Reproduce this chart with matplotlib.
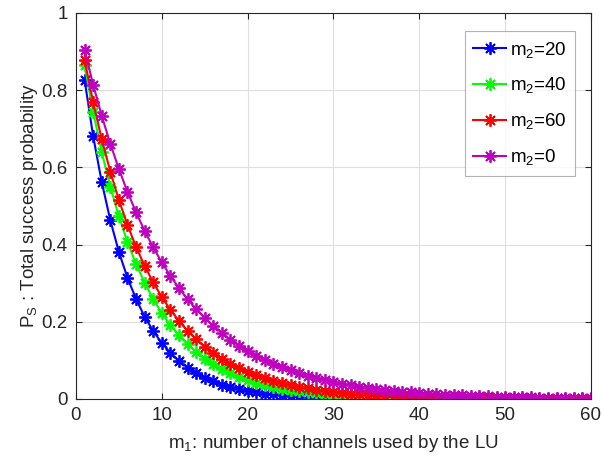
import matplotlib
matplotlib.use("Agg")
import matplotlib.pyplot as plt
import numpy as np

plt.rcParams["font.family"] = ["Liberation Sans", "DejaVu Sans"]
plt.rcParams["mathtext.default"] = "regular"

m1 = np.arange(1, 61)

ps_m2_20 = [
    0.827, 0.681, 0.562, 0.463, 0.381, 0.314, 0.259, 0.213, 0.176, 0.145,
    0.1195, 0.0985, 0.0811, 0.0669, 0.0551, 0.0454, 0.0374, 0.0308, 0.0254, 0.0209,
    0.0172, 0.0142, 0.0117, 0.0097, 0.0080, 0.0066, 0.0054, 0.0045, 0.0037, 0.0030,
    0.0025, 0.0021, 0.0017, 0.0014, 0.0012, 0.0010, 0.0008, 0.0007, 0.0005, 0.0005,
    0.0004, 0.0003, 0.0003, 0.0002, 0.0002, 0.0002, 0.0001, 0.0001, 0.0001, 0.0001,
    0.0, 0.0, 0.0, 0.0, 0.0, 0.0, 0.0, 0.0, 0.0, 0.0,
]
ps_m2_40 = [
    0.865, 0.7439, 0.6398, 0.5502, 0.4732, 0.4069, 0.3500, 0.3010, 0.2588, 0.2226,
    0.1914, 0.1646, 0.1416, 0.1218, 0.1047, 0.0901, 0.0775, 0.0666, 0.0573, 0.0493,
    0.0424, 0.0364, 0.0313, 0.0270, 0.0232, 0.0199, 0.0171, 0.0147, 0.0127, 0.0109,
    0.0094, 0.0081, 0.0069, 0.0060, 0.0051, 0.0044, 0.0038, 0.0033, 0.0028, 0.0024,
    0.0021, 0.0018, 0.0015, 0.0013, 0.0011, 0.0010, 0.0008, 0.0007, 0.0006, 0.0005,
    0.0005, 0.0004, 0.0003, 0.0003, 0.0003, 0.0002, 0.0002, 0.0002, 0.0001, 0.0001,
]
ps_m2_60 = [
    0.879, 0.769, 0.673, 0.589, 0.515, 0.451, 0.394, 0.345, 0.302, 0.264,
    0.231, 0.202, 0.177, 0.155, 0.1356, 0.1187, 0.1038, 0.0909, 0.0795, 0.0696,
    0.0609, 0.0533, 0.0466, 0.0408, 0.0357, 0.0312, 0.0273, 0.0239, 0.0209, 0.0183,
    0.0160, 0.0140, 0.0123, 0.0107, 0.0094, 0.0082, 0.0072, 0.0063, 0.0055, 0.0048,
    0.0042, 0.0037, 0.0032, 0.0028, 0.0025, 0.0022, 0.0019, 0.0017, 0.0015, 0.0013,
    0.0011, 0.0010, 0.0008, 0.0007, 0.0006, 0.0006, 0.0005, 0.0004, 0.0004, 0.0003,
]
ps_m2_0 = [
    0.904, 0.8145, 0.7339, 0.6612, 0.5958, 0.5368, 0.4836, 0.4358, 0.3926, 0.3538,
    0.3187, 0.2872, 0.2588, 0.2331, 0.2101, 0.1893, 0.1705, 0.1536, 0.1384, 0.1247,
    0.1124, 0.1013, 0.0912, 0.0822, 0.0741, 0.0667, 0.0601, 0.0542, 0.0488, 0.0440,
    0.0396, 0.0357, 0.0322, 0.0290, 0.0261, 0.0235, 0.0212, 0.0191, 0.0172, 0.0155,
    0.0140, 0.0126, 0.0113, 0.0102, 0.0092, 0.0083, 0.0075, 0.0068, 0.0061, 0.0055,
    0.0049, 0.0044, 0.0040, 0.0036, 0.0033, 0.0029, 0.0027, 0.0024, 0.0021, 0.0019,
]

series = [
    (ps_m2_20, "#0000FF", "m$_2$=20"),
    (ps_m2_40, "#00FF00", "m$_2$=40"),
    (ps_m2_60, "#FF0000", "m$_2$=60"),
    (ps_m2_0, "#BF00BF", "m$_2$=0"),
]

axis_color = "#262626"
fs = 13.5

fig = plt.figure(figsize=(6.03, 4.62), dpi=100)
ax = fig.add_axes([0.126, 0.1364, 0.854, 0.8355])

for values, color, label in series:
    ax.plot(m1, values, color=color, linewidth=1.5, marker=(8, 2, 0),
            markersize=9, markeredgewidth=1.3, label=label)

ax.set_xlim(0, 60)
ax.set_ylim(0, 1)
ax.set_xticks(np.arange(0, 61, 10))
ax.set_yticks(np.arange(0, 1.01, 0.2))
ax.set_yticklabels(["0", "0.2", "0.4", "0.6", "0.8", "1"])

ax.grid(True, color="#DFDFDF", linewidth=0.8)
ax.set_axisbelow(True)
for spine in ax.spines.values():
    spine.set_color(axis_color)
    spine.set_linewidth(0.8)
ax.tick_params(direction="in", top=True, right=True, length=4, width=0.8,
               color=axis_color, labelcolor=axis_color, labelsize=fs, pad=6)

ax.set_xlabel("m$_1$: number of channels used by the LU", fontsize=fs,
              color=axis_color, labelpad=6)
ax.set_ylabel("P$_S$ : Total success probability", fontsize=fs,
              color=axis_color, labelpad=1)

leg = ax.legend(loc="upper right", bbox_to_anchor=(0.969, 0.953), fontsize=fs,
                frameon=True, fancybox=False, edgecolor="#A0A0A0",
                handlelength=1.75, handletextpad=0.2, borderpad=0.45,
                labelspacing=0.85, borderaxespad=0)
leg.get_frame().set_linewidth(0.8)

fig.savefig("out.png", dpi=100)
